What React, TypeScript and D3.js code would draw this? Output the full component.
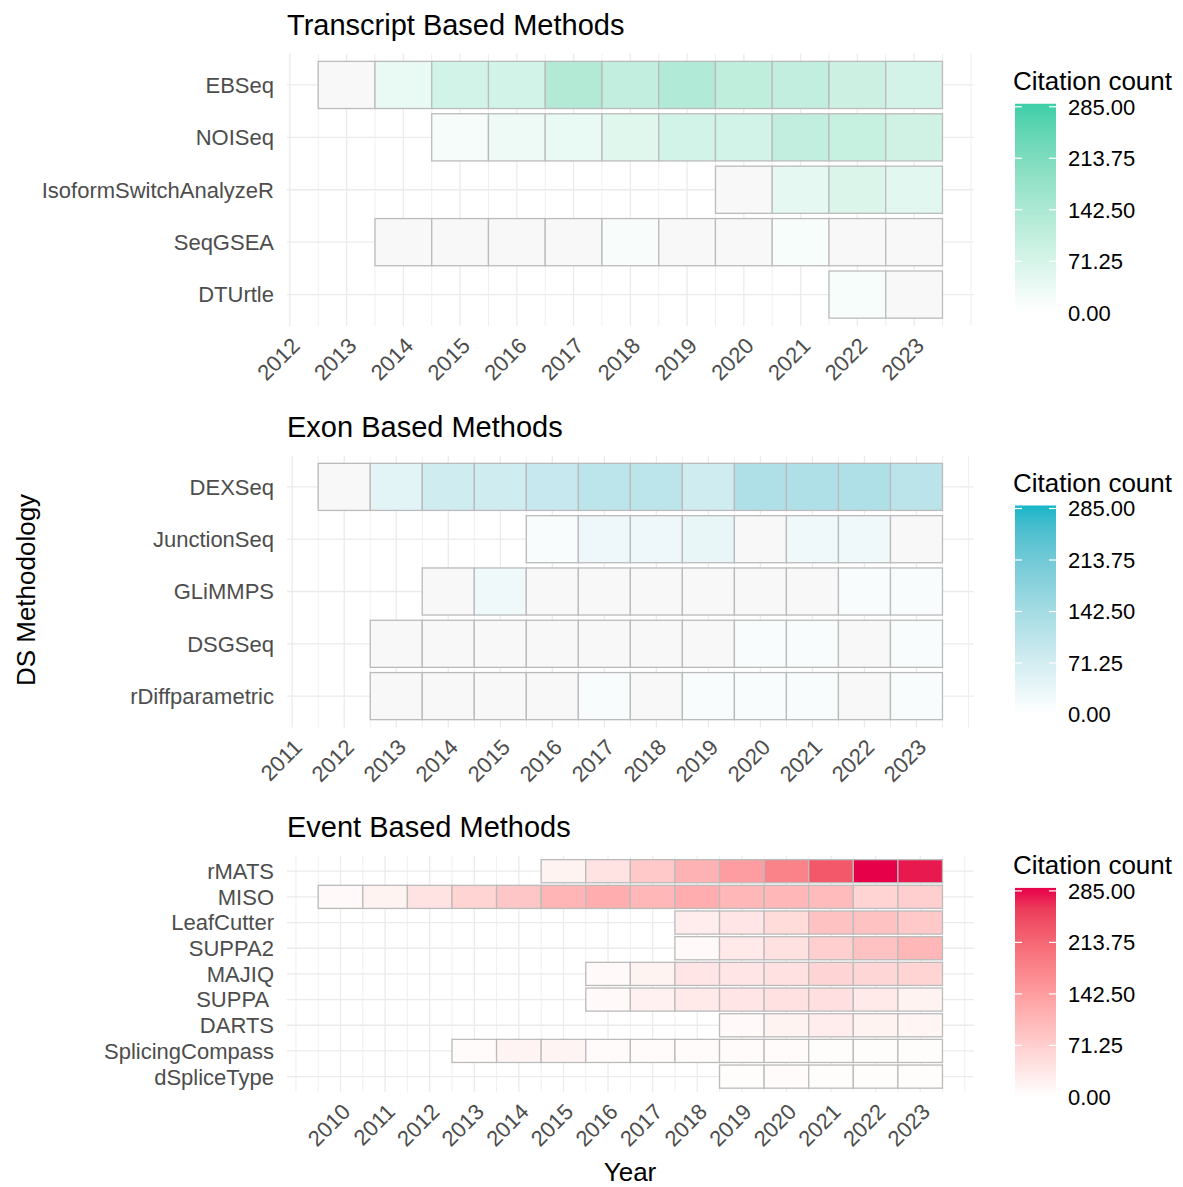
import React, { useEffect, useRef } from 'react';
import * as d3 from 'd3';

// ---- data (null = no count, drawn grey) ----
const transcriptMethods = ['EBSeq', 'NOISeq', 'IsoformSwitchAnalyzeR', 'SeqGSEA', 'DTUrtle'];
const transcriptFirstYear = [2013, 2015, 2020, 2014, 2022];
const transcriptCounts: (number | null)[][] = [
  [null, 38, 77, 77, 131, 106, 133, 108, 106, 88, 74],
  [18, 32, 39, 54, 77, 78, 107, 98, 82],
  [null, 46, 63, 52],
  [null, null, null, null, 13, null, null, 15, null, null],
  [15, null],
];
const transcriptYears = [2012, 2013, 2014, 2015, 2016, 2017, 2018, 2019, 2020, 2021, 2022, 2023];

const exonMethods = ['DEXSeq', 'JunctionSeq', 'GLiMMPS', 'DSGSeq', 'rDiffparametric'];
const exonFirstYear = [2012, 2016, 2014, 2013, 2013];
const exonCounts: (number | null)[][] = [
  [null, 44, 77, 77, 89, 105, 105, 77, 124, 124, 124, 108],
  [10, 27, 27, 35, null, 25, 25, null],
  [null, 25, null, null, null, null, null, null, 10, 10],
  [null, null, null, null, null, null, null, 10, 10, null, 10],
  [null, null, null, null, 10, null, 10, 10, 10, null, 10],
];
const exonYears = [2011, 2012, 2013, 2014, 2015, 2016, 2017, 2018, 2019, 2020, 2021, 2022, 2023];

const eventMethods = ['rMATS', 'MISO', 'LeafCutter', 'SUPPA2', 'MAJIQ', 'SUPPA ', 'DARTS', 'SplicingCompass', 'dSpliceType'];
const eventFirstYear = [2015, 2010, 2018, 2018, 2016, 2016, 2019, 2013, 2019];
const eventCounts: (number | null)[][] = [
  [18, 40, 79, 111, 140, 176, 228, 285, 278],
  [9, 18, 40, 63, 82, 109, 118, 104, 118, 104, 104, 99, 63, 70],
  [26, 38, 53, 89, 89, 79],
  [8, 32, 43, 70, 89, 104],
  [9, 18, 38, 38, 43, 62, 59, 63],
  [9, 20, 32, 38, 43, 46, 32, 18],
  [8, 18, 27, 18, 15],
  [6, 16, 16, 6, 6, 6, 6, 6, 4, 4, 4],
  [4, 6, 4, 4, 4],
];
const eventYears = [2010, 2011, 2012, 2013, 2014, 2015, 2016, 2017, 2018, 2019, 2020, 2021, 2022, 2023];

const legendBreaks = [0, 71.25, 142.5, 213.75, 285];

const FONT = '"Liberation Sans", Arial, sans-serif';
const LOW = '#FFFFFF';
const NA_FILL = '#F8F8F8';

interface Panel {
  title: string;
  methods: string[];
  firstYear: number[];
  counts: (number | null)[][];
  years: number[];
  high: string;
  top: number;
  bottom: number;
}

const panels: Panel[] = [
  { title: 'Transcript Based Methods', methods: transcriptMethods, firstYear: transcriptFirstYear, counts: transcriptCounts, years: transcriptYears, high: '#3DCFA8', top: 53.5, bottom: 326 },
  { title: 'Exon Based Methods', methods: exonMethods, firstYear: exonFirstYear, counts: exonCounts, years: exonYears, high: '#18B6C8', top: 455.5, bottom: 727.5 },
  { title: 'Event Based Methods', methods: eventMethods, firstYear: eventFirstYear, counts: eventCounts, years: eventYears, high: '#E6004A', top: 855.8, bottom: 1092 },
];

const App: React.FC = () => {
  const svgRef = useRef<SVGSVGElement>(null);

  useEffect(() => {
    if (!svgRef.current) return;
    const svg = d3.select(svgRef.current);
    svg.selectAll('*').remove();

    const left = 287;
    const right = 973.7;
    const defs = svg.append('defs');

    panels.forEach((p, pi) => {
      const g = svg.append('g');

      // one cell per method and year
      const cells: { row: number; year: number; value: number | null }[] = [];
      p.counts.forEach((vals, r) => vals.forEach((v, k) => cells.push({ row: r, year: p.firstYear[r] + k, value: v })));

      const lo = d3.min(p.firstYear)! - 0.5;
      const hi = 2023.5;
      const pad = (hi - lo) * 0.05;
      const x = d3.scaleLinear().domain([lo - pad, hi + pad]).range([left, right]);

      const n = p.methods.length;
      const y = d3.scaleLinear().domain([0.4, n + 0.6]).range([p.top, p.bottom]);
      const step = y(2) - y(1);

      const color = d3.scaleLinear<string>().domain([0, 285]).range([LOW, p.high]).interpolate(d3.interpolateLab);

      // grid: major at breaks, minor in between
      const bstep = p.years[1] - p.years[0];
      const ext = [p.years[0] - bstep, ...p.years, p.years[p.years.length - 1] + bstep];
      const minor: number[] = [];
      for (let i = 0; i < ext.length - 1; i++) minor.push(ext[i] + bstep / 2);
      const [d0, d1] = x.domain();
      const minorIn = [...minor, ...ext].filter(v => v >= d0 && v <= d1 && !p.years.includes(v));

      g.selectAll('.minor')
        .data(minorIn)
        .enter()
        .append('line')
        .attr('x1', d => x(d))
        .attr('x2', d => x(d))
        .attr('y1', p.top)
        .attr('y2', p.bottom)
        .attr('stroke', '#EBEBEB')
        .attr('stroke-width', 0.8);

      g.selectAll('.major')
        .data(p.years)
        .enter()
        .append('line')
        .attr('x1', d => x(d))
        .attr('x2', d => x(d))
        .attr('y1', p.top)
        .attr('y2', p.bottom)
        .attr('stroke', '#EBEBEB')
        .attr('stroke-width', 1.3);

      g.selectAll('.hgrid')
        .data(p.methods)
        .enter()
        .append('line')
        .attr('x1', left)
        .attr('x2', right)
        .attr('y1', (_, i) => y(i + 1))
        .attr('y2', (_, i) => y(i + 1))
        .attr('stroke', '#EBEBEB')
        .attr('stroke-width', 1.3);

      g.selectAll('.tile')
        .data(cells)
        .enter()
        .append('rect')
        .attr('x', d => x(d.year - 0.5))
        .attr('y', d => y(d.row + 1) - step * 0.45)
        .attr('width', d => x(d.year + 0.5) - x(d.year - 0.5))
        .attr('height', step * 0.9)
        .attr('fill', d => (d.value == null ? NA_FILL : color(d.value)))
        .attr('stroke', '#BBBBBB')
        .attr('stroke-width', 1.3);

      // y labels
      g.selectAll('.ylab')
        .data(p.methods)
        .enter()
        .append('text')
        .attr('x', 274)
        .attr('y', (_, i) => y(i + 1))
        .attr('dy', '0.36em')
        .attr('text-anchor', 'end')
        .style('white-space', 'pre')
        .attr('font-family', FONT)
        .attr('font-size', 22)
        .attr('fill', '#4D4D4D')
        .text(d => d);

      // x labels, rotated 45
      g.selectAll('.xlab')
        .data(p.years)
        .enter()
        .append('text')
        .attr('transform', d => `translate(${x(d)},${p.bottom + 10}) rotate(-45)`)
        .attr('dy', '0.72em')
        .attr('text-anchor', 'end')
        .attr('font-family', FONT)
        .attr('font-size', 22)
        .attr('fill', '#4D4D4D')
        .text(d => String(d));

      // title
      g.append('text')
        .attr('x', left)
        .attr('y', p.top - 18.4)
        .attr('font-family', FONT)
        .attr('font-size', 29)
        .attr('fill', '#000')
        .text(p.title);

      // legend
      const mid = (p.top + p.bottom) / 2;
      const ly = d3.scaleLinear().domain([0, 285]).range([mid + 123, mid - 83]);
      const bx = 1015;
      const bw = 41;
      const gid = `grad${pi}`;
      const grad = defs.append('linearGradient')
        .attr('id', gid)
        .attr('x1', 0).attr('x2', 0).attr('y1', 1).attr('y2', 0);
      d3.range(0, 1.0001, 0.1).forEach(t => {
        grad.append('stop').attr('offset', t).attr('stop-color', color(t * 285));
      });
      g.append('rect')
        .attr('x', bx)
        .attr('y', ly(285) - 3)
        .attr('width', bw)
        .attr('height', ly(0) - ly(285) + 3)
        .attr('fill', `url(#${gid})`);

      legendBreaks.forEach(b => {
        [bx, bx + bw - 7].forEach(tx => {
          g.append('line')
            .attr('x1', tx).attr('x2', tx + 7)
            .attr('y1', ly(b)).attr('y2', ly(b))
            .attr('stroke', '#fff')
            .attr('stroke-width', 1.2);
        });
      });

      g.selectAll('.leglab')
        .data(legendBreaks)
        .enter()
        .append('text')
        .attr('x', 1068)
        .attr('y', d => ly(d))
        .attr('dy', '0.36em')
        .attr('font-family', FONT)
        .attr('font-size', 22)
        .attr('fill', '#000')
        .text(d => d3.format('.2f')(d));

      g.append('text')
        .attr('x', 1013)
        .attr('y', ly(285) - 17)
        .attr('font-family', FONT)
        .attr('font-size', 26)
        .attr('fill', '#000')
        .text('Citation count');
    });

    // axis titles
    svg.append('text')
      .attr('transform', 'translate(35,590) rotate(-90)')
      .attr('text-anchor', 'middle')
      .attr('font-family', FONT)
      .attr('font-size', 26)
      .attr('fill', '#000')
      .text('DS Methodology');

    svg.append('text')
      .attr('x', 630)
      .attr('y', 1181)
      .attr('text-anchor', 'middle')
      .attr('font-family', FONT)
      .attr('font-size', 26)
      .attr('fill', '#000')
      .text('Year');
  }, []);

  return (
    <div style={{ position: 'absolute', left: 0, top: 0, background: '#fff' }}>
      <svg ref={svgRef} width={1183} height={1187}></svg>
    </div>
  );
};

export default App;
